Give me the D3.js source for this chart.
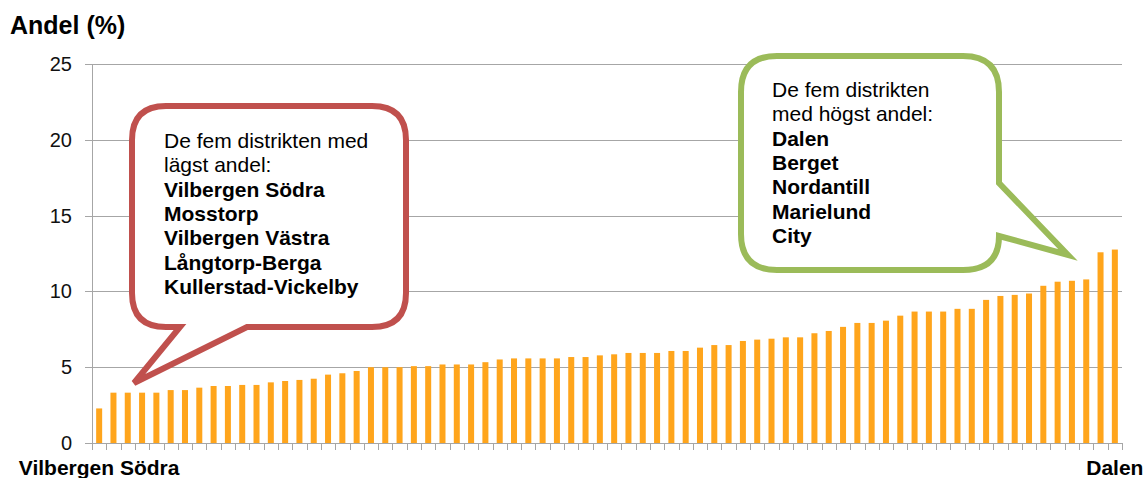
<!DOCTYPE html>
<html>
<head>
<meta charset="utf-8">
<script src="https://cdn.jsdelivr.net/npm/d3@7"></script>
<style>
body { margin: 0; background: #fff; }
text { font-family: "Liberation Sans", Arial, sans-serif; }
</style>
</head>
<body>
<svg width="1146" height="478"></svg>
<script>
// andel per distrikt, sorterat stigande
var values = [
	2.28, 3.32, 3.32, 3.32, 3.32, 3.49, 3.49, 3.65, 3.76, 3.76,
	3.83, 3.83, 4.00, 4.09, 4.16, 4.24, 4.51, 4.60, 4.75, 5.00,
	5.00, 5.00, 5.07, 5.07, 5.18, 5.18, 5.18, 5.33, 5.51, 5.58,
	5.58, 5.58, 5.58, 5.67, 5.67, 5.78, 5.85, 5.94, 5.94, 5.94,
	6.07, 6.07, 6.29, 6.46, 6.46, 6.73, 6.82, 6.88, 6.97, 6.97,
	7.24, 7.39, 7.66, 7.92, 7.92, 8.07, 8.40, 8.67, 8.67, 8.67,
	8.85, 8.85, 9.44, 9.70, 9.77, 9.86, 10.37, 10.64, 10.70, 10.79,
	12.58, 12.76
];
var categories = values.map(function(d, i) { return i; });
var xLabels = ["Vilbergen Södra", "Dalen"];
var yTicks = [0, 5, 10, 15, 20, 25];
var lowNames = ["Vilbergen Södra", "Mosstorp", "Vilbergen Västra", "Långtorp-Berga", "Kullerstad-Vickelby"];
var highNames = ["Dalen", "Berget", "Nordantill", "Marielund", "City"];

var svg = d3.select("svg");
var gridColor = "#a6a6a6";

var x = d3.scaleBand().domain(categories).range([92, 1122])
	.paddingInner(0.58).paddingOuter(0.29);
var y = d3.scaleLinear().domain([0, 25]).range([443, 64]);

// title
svg.append("text")
	.attr("x", 10).attr("y", 34)
	.style("font-size", "25px").style("font-weight", "bold")
	.text("Andel (%)");

// gridlines + y ticks
svg.append("g").selectAll("line")
	.data(yTicks).enter().append("line")
		.attr("x1", 85).attr("x2", 1122)
		.attr("y1", function(d) { return Math.round(y(d)) + 0.5; })
		.attr("y2", function(d) { return Math.round(y(d)) + 0.5; })
		.attr("stroke", gridColor);

svg.append("line")
	.attr("x1", 92.5).attr("x2", 92.5)
	.attr("y1", y(25)).attr("y2", y(0))
	.attr("stroke", gridColor);

svg.append("g").selectAll("text")
	.data(yTicks).enter().append("text")
		.attr("x", 72)
		.attr("y", function(d) { return y(d); })
		.attr("dy", "0.35em")
		.style("text-anchor", "end")
		.style("font-size", "20px")
		.style("fill", "#111")
		.text(function(d) { return d; });

// x ticks between categories
var bounds = categories.concat([values.length]);
svg.append("g").selectAll("line")
	.data(bounds).enter().append("line")
		.attr("x1", function(d) { return Math.round(92 + d * x.step()) + 0.5; })
		.attr("x2", function(d) { return Math.round(92 + d * x.step()) + 0.5; })
		.attr("y1", y(0)).attr("y2", y(0) + 7)
		.attr("stroke", gridColor);

// bars
svg.append("g").selectAll("rect")
	.data(values).enter().append("rect")
		.attr("x", function(d, i) { return x(i); })
		.attr("y", function(d) { return y(d); })
		.attr("width", x.bandwidth())
		.attr("height", function(d) { return y(0) - y(d); })
		.attr("fill", "#ffa51c");

// x labels, first and last district
svg.append("g").selectAll("text")
	.data([0, values.length - 1]).enter().append("text")
		.attr("x", function(d) { return x(d) + x.bandwidth() / 2; })
		.attr("y", 475)
		.style("text-anchor", "middle")
		.style("font-size", "21px").style("font-weight", "bold")
		.text(function(d, i) { return xLabels[i]; });

// callouts
function callout(path, color, x0, y0, lines, nBold) {
	svg.append("path")
		.attr("d", path)
		.attr("fill", "#fff")
		.attr("stroke", color)
		.attr("stroke-width", 6)
		.attr("stroke-linejoin", "miter");
	svg.append("g").selectAll("text")
		.data(lines).enter().append("text")
			.attr("x", x0)
			.attr("y", function(d, i) { return y0 + i * 24.3; })
			.style("font-size", "21px")
			.style("font-weight", function(d, i) { return i >= lines.length - nBold ? "bold" : "normal"; })
			.text(function(d) { return d; });
}

var r = 34;
var redPath = "M" + (132 + r) + ",106 L" + (406 - r) + ",106 Q406,106 406," + (106 + r) +
	" L406," + (327 - r) + " Q406,327 " + (406 - r) + ",327 L247,327 L134,383 L180,327 L" + (132 + r) + ",327" +
	" Q132,327 132," + (327 - r) + " L132," + (106 + r) + " Q132,106 " + (132 + r) + ",106 Z";
callout(redPath, "#c0504d", 164, 148,
	["De fem distrikten med", "lägst andel:"].concat(lowNames), lowNames.length);

var g = 36;
var greenPath = "M" + (741 + g) + ",56 L" + (999 - g) + ",56 Q999,56 999," + (56 + g) +
	" L999,183 L1068,255 L999,236 Q999,270 " + (999 - g) + ",270 L" + (741 + g) + ",270" +
	" Q741,270 741," + (270 - g) + " L741," + (56 + g) + " Q741,56 " + (741 + g) + ",56 Z";
callout(greenPath, "#9bbb59", 772, 97,
	["De fem distrikten", "med högst andel:"].concat(highNames), highNames.length);
</script>
</body>
</html>
